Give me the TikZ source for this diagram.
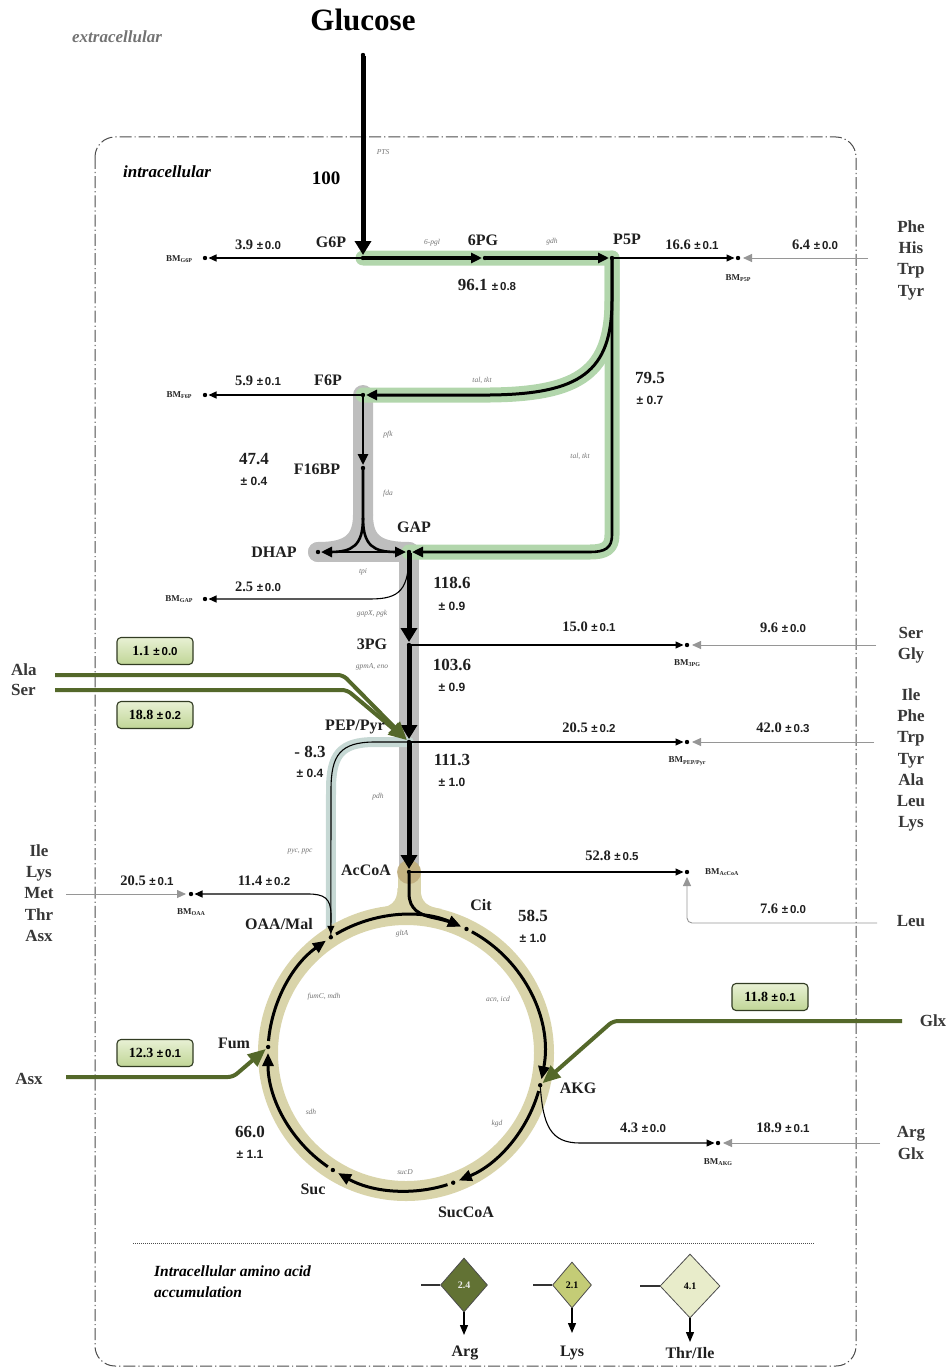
\documentclass[tikz,border=0pt]{standalone}
\usepackage{fontspec}
\setmainfont{Liberation Serif}
\newfontfamily\sansf{Liberation Sans}
\usetikzlibrary{arrows.meta,calc,shapes.geometric}
\definecolor{bandgreen}{RGB}{178,214,172}
\definecolor{bandgray}{RGB}{190,190,190}
\definecolor{bandtca}{RGB}{217,212,170}
\definecolor{bandteal}{RGB}{198,216,212}
\definecolor{acspot}{RGB}{190,172,122}
\definecolor{aagreen}{RGB}{84,104,42}
\definecolor{boxtop}{RGB}{232,240,212}
\definecolor{boxbot}{RGB}{192,213,150}
\definecolor{boxline}{RGB}{50,60,35}
\definecolor{inflow}{RGB}{150,150,150}
\definecolor{cArg}{RGB}{98,114,52}
\definecolor{cLys}{RGB}{196,204,118}
\definecolor{cThr}{RGB}{232,236,202}
\newcommand\pmx[1]{{\sansf\bfseries\fontsize{11.5}{13}\selectfont ±\,#1}}
\newcommand\bmsub[1]{BM\raisebox{-1.4pt}{\fontsize{6}{7}\selectfont #1}}
\tikzset{
  met/.style={font=\fontsize{16}{18}\selectfont\bfseries, text=black!88, inner sep=0pt},
  flx/.style={font=\fontsize{14.5}{16}\selectfont\bfseries, text=black!88, inner sep=0pt},
  bflx/.style={font=\fontsize{17}{19}\selectfont\bfseries, text=black!88, inner sep=0pt},
  pmlab/.style={font=\sansf\bfseries\fontsize{12}{14}\selectfont, text=black!88, inner sep=0pt},
  enz/.style={font=\fontsize{7.5}{8.5}\selectfont\itshape, text=black!55, inner sep=0pt},
  bml/.style={font=\fontsize{9}{10}\selectfont\bfseries, text=black!85, inner sep=0pt},
  aal/.style={font=\fontsize{17}{21.3}\selectfont\bfseries, align=center, text=black!78, inner sep=0pt},
  band/.style={line width=#1, line cap=round, line join=round},
  mainflux/.style={line width=5pt, -{Triangle[length=14pt,width=16pt]}, shorten >=3pt, shorten <=1pt},
  midflux/.style={line width=3pt, line join=round, -{Triangle[length=11pt,width=10pt]}, shorten >=3pt},
  thinflux/.style={line width=1.1pt, -{Triangle[length=8pt,width=7pt]}, shorten >=3.5pt},
  grayflux/.style={line width=0.9pt, draw=inflow, -{Triangle[length=9pt,width=8pt]}, shorten >=5pt},
  aaflux/.style={line width=4pt, draw=aagreen, line join=round, rounded corners=5pt, -{Triangle[length=18pt,width=15pt]}, shorten >=3pt},
  tcaflux/.style={line width=3pt, -{Triangle[length=13pt,width=11pt]}},
  abox/.style={draw=boxline, line width=1.1pt, rounded corners=4pt, top color=boxtop, bottom color=boxbot, minimum width=76pt, minimum height=27pt, font=\fontsize{14}{16}\selectfont\bfseries, inner sep=0pt},
  dmd/.style={diamond, draw=black!70, line width=0.8pt, inner sep=0pt, font=\fontsize{10}{11}\selectfont\bfseries},
}
\begin{document}
\begin{tikzpicture}[x=1pt,y=-1pt]
\useasboundingbox (0,0) rectangle (950,1367);

% cell boundary
\draw[black!70, line width=1pt, dash pattern=on 12pt off 3pt on 1.2pt off 3pt, rounded corners=20pt] (95,137) rectangle (856,1366);

% ---------- coordinates ----------
\coordinate (GLC) at (363,55);
\coordinate (G6P) at (363,258);
\coordinate (n6PG) at (485,258);
\coordinate (P5P) at (612,258);
\coordinate (F6P) at (363,395);
\coordinate (F16BP) at (363,468);
\coordinate (DHAP) at (318,552);
\coordinate (GAP) at (409,552);
\coordinate (n3PG) at (409,645);
\coordinate (PEP) at (409,742);
\coordinate (AcCoA) at (409,872);
\coordinate (C) at (406,1053);
\coordinate (OAA) at ($(C)+(-123:138)$);
\coordinate (Cit) at ($(C)+(-64:138)$);
\coordinate (AKG) at ($(C)+(13.5:138)$);
\coordinate (SucCoA) at ($(C)+(70:138)$);
\coordinate (Suc) at ($(C)+(122:138)$);
\coordinate (Fum) at ($(C)+(182.5:138)$);
\coordinate (BMG6P) at (205,258);
\coordinate (BMF6P) at (205,395);
\coordinate (BMGAP) at (205,599);
\coordinate (BMP5P) at (738,258);
\coordinate (BM3PG) at (687,645);
\coordinate (BMPEP) at (687,742);
\coordinate (BMAcCoA) at (687,872);
\coordinate (BMOAA) at (191,894);
\coordinate (BMAKG) at (718,1143);
\coordinate (inP5P) at (868,258);
\coordinate (in3PG) at (876,645);
\coordinate (inPEP) at (874,742);
\coordinate (inLeu) at (877,923);
\coordinate (inOAA) at (66,894);
\coordinate (inAKG) at (880,1143);
\coordinate (inAla) at (55,675);
\coordinate (inSer) at (55,690);
\coordinate (inAsx) at (66,1077);
\coordinate (inGlx) at (902,1021);

% ---------- highlight bands ----------
\draw[bandgray, band=20pt] (F6P) -- (F16BP) -- (363,515) .. controls (363,545) and (345,552) .. (DHAP);
\draw[bandgray, band=20pt] (363,515) .. controls (363,545) and (380,552) .. (GAP);
\draw[bandgray, band=20pt] (DHAP) -- (GAP) -- (AcCoA);
\draw[bandteal, band=10pt] (PEP) -- (375,742) .. controls (340,742) and (331,755) .. (331,790) -- (OAA);
\draw[bandtca, line width=20pt] (C) circle[radius=138];
\draw[bandtca, band=23pt] (AcCoA) -- (409,912);
\fill[bandtca] (397.5,888) .. controls (397.5,903) and (390,907) .. (376,909) -- (409,918) -- cycle;
\fill[bandtca] (420.5,888) .. controls (420.5,903) and (428,907) .. (442,909) -- (409,918) -- cycle;
\fill[acspot, opacity=0.85] (AcCoA) circle (12pt);
\draw[bandgreen, band=15pt] (G6P) -- (P5P) -- (612,535) .. controls (612,548) and (605,552) .. (590,552) -- (GAP);
\draw[bandgreen, band=15pt] (P5P) -- (612,300) .. controls (612,372) and (580,394) .. (490,395) -- (F6P);

% ---------- main fluxes ----------
\draw[mainflux] (GLC) -- (G6P);
\draw[midflux, line width=3.5pt] (G6P) -- (n6PG);
\draw[midflux, line width=3.5pt] (n6PG) -- (P5P);
\draw[midflux] (P5P) -- (612,300) .. controls (612,372) and (580,394) .. (490,395) -- (F6P);
\draw[midflux, line width=2.6pt] (P5P) -- (612,535) .. controls (612,548) and (605,552) .. (590,552) -- (GAP);
\draw[midflux, line width=2.6pt] (F6P) -- (F16BP);
\draw[line width=2.6pt] (F16BP) -- (363,518) .. controls (363,546) and (352,552) .. (330,552);
\draw[line width=2.6pt] (363,518) .. controls (363,546) and (374,552) .. (396,552);
\draw[line width=2.6pt, {Triangle[length=11pt,width=10pt]}-{Triangle[length=11pt,width=10pt]}, shorten >=3pt, shorten <=3pt] (DHAP) -- (GAP);
\draw[mainflux] (GAP) -- (n3PG);
\draw[mainflux] (n3PG) -- (PEP);
\draw[mainflux] (PEP) -- (AcCoA);

% TCA cycle
\draw[tcaflux] ($(C)+(-120.5:138)$) arc[start angle=-120.5, end angle=-66.5, radius=138];
\draw[tcaflux, shorten <=2pt] (AcCoA) -- (409,893) .. controls (409,910) and (420,915) .. ($(C)+(-78:138)$) arc[start angle=-78, end angle=-66.5, radius=138];
\draw[tcaflux] ($(C)+(-61.5:138)$) arc[start angle=-61.5, end angle=11, radius=138];
\draw[tcaflux] ($(C)+(16:138)$) arc[start angle=16, end angle=67.5, radius=138];
\draw[tcaflux] ($(C)+(72.5:138)$) arc[start angle=72.5, end angle=119.5, radius=138];
\draw[tcaflux] ($(C)+(124.5:138)$) arc[start angle=124.5, end angle=180, radius=138];
\draw[tcaflux] ($(C)+(185:138)$) arc[start angle=185, end angle=234.5, radius=138];

% ---------- biomass drains ----------
\draw[thinflux] (G6P) -- (BMG6P);
\draw[thinflux] (F6P) -- (BMF6P);
\draw[thinflux] (GAP) .. controls (409,590) and (400,599) .. (370,599) -- (BMGAP);
\draw[thinflux] (P5P) -- (BMP5P);
\draw[thinflux] (n3PG) -- (BM3PG);
\draw[thinflux] (PEP) -- (BMPEP);
\draw[thinflux] (AcCoA) -- (BMAcCoA);
\draw[thinflux] (PEP) -- (375,742) .. controls (340,742) and (331,755) .. (331,790) -- (OAA);
\draw[thinflux] (OAA) -- (331,915) .. controls (331,898) and (324,894) .. (308,894) -- (BMOAA);
\draw[thinflux] (AKG) .. controls (543,1125) and (550,1143) .. (580,1143) -- (BMAKG);

% ---------- external supply (grey) ----------
\draw[grayflux] (inP5P) -- (BMP5P);
\draw[grayflux] (in3PG) -- (BM3PG);
\draw[grayflux] (inPEP) -- (BMPEP);
\draw[grayflux, rounded corners=5pt] (inLeu) -- (687,923) -- (BMAcCoA);
\draw[grayflux] (inOAA) -- (BMOAA);
\draw[grayflux] (inAKG) -- (BMAKG);

% ---------- amino acid uptake (green) ----------
\draw[aaflux] (inAla) -- (343,675) -- (PEP);
\draw[aaflux] (inSer) -- (347,690) -- (PEP);
\draw[aaflux] (inAsx) -- (233,1077) -- (Fum);
\draw[aaflux] (inGlx) -- (613,1021) -- (AKG);

% ---------- dots ----------
\foreach \p in {GLC,G6P,n6PG,P5P,F6P,F16BP,DHAP,GAP,n3PG,PEP,AcCoA,OAA,Cit,AKG,SucCoA,Suc,Fum,BMG6P,BMF6P,BMGAP,BMP5P,BM3PG,BMPEP,BMAcCoA,BMOAA,BMAKG}
  \fill (\p) circle (2.2pt);

% ---------- labels ----------
\node[font=\fontsize{17}{19}\selectfont\bfseries\itshape, text=black!55, inner sep=0pt] (tExtra) at (117,37) {extracellular};
\node[font=\fontsize{31}{33}\selectfont\bfseries, inner sep=0pt] (tGlc) at (363,20) {Glucose};
\node[font=\fontsize{17}{19}\selectfont\bfseries\itshape, inner sep=0pt] (tIntra) at (167,172) {intracellular};
\node[enz] (ePTS) at (383,152) {PTS};
\node[font=\fontsize{19}{21}\selectfont\bfseries, inner sep=0pt] (t100) at (326,178) {100};

\node[met] (lG6P) at (331,242) {G6P};
\node[met] (l6PG) at (483,240) {6PG};
\node[met] (lP5P) at (627,239) {P5P};
\node[enz] (e6pgl) at (432,243) {6-pgl};
\node[enz] (egdh) at (552,242) {gdh};
\node[bflx] (f96) at (487,285) {96.1 \pmx{0.8}};
\node[flx] (f39) at (258,245) {3.9 \pmx{0.0}};
\node[flx] (f166) at (692,245) {16.6 \pmx{0.1}};
\node[flx] (f64) at (815,245) {6.4 \pmx{0.0}};
\node[bml] (bG6P) at (179,259) {\bmsub{G6P}};
\node[bml] (bP5P) at (738,278) {\bmsub{P5P}};
\node[aal] (aP5P) at (911,260) {Phe\\His\\Trp\\Tyr};

\node[enz] (etal1) at (482,380) {tal, tkt};
\node[enz] (etal2) at (580,456) {tal, tkt};
\node[bflx] (f795) at (650,378) {79.5};
\node[pmlab] (f795b) at (650,400) {± 0.7};

\node[met] (lF6P) at (328,380) {F6P};
\node[flx] (f59) at (258,381) {5.9 \pmx{0.1}};
\node[bml] (bF6P) at (179,395) {\bmsub{F6P}};
\node[enz] (epfk) at (388,435) {pfk};
\node[bflx] (f474) at (254,459) {47.4};
\node[pmlab] (f474b) at (254,481) {± 0.4};
\node[met] (lF16BP) at (317,469) {F16BP};
\node[enz] (efda) at (388,494) {fda};
\node[met] (lGAP) at (414,527) {GAP};
\node[met] (lDHAP) at (274,552) {DHAP};
\node[enz] (etpi) at (363,572) {tpi};
\node[flx] (f25) at (258,587) {2.5 \pmx{0.0}};
\node[bml] (bGAP) at (179,599) {\bmsub{GAP}};

\node[bflx] (f1186) at (452,583) {118.6};
\node[pmlab] (f1186b) at (452,606) {± 0.9};
\node[enz] (egap) at (372,614) {gapX, pgk};
\node[met] (l3PG) at (372,644) {3PG};
\node[enz] (egpm) at (372,667) {gpmA, eno};
\node[bflx] (f1036) at (452,665) {103.6};
\node[pmlab] (f1036b) at (452,687) {± 0.9};
\node[flx] (f150) at (589,627) {15.0 \pmx{0.1}};
\node[flx] (f96b) at (783,628) {9.6 \pmx{0.0}};
\node[bml] (b3PG) at (687,663) {\bmsub{3PG}};
\node[aal] (a3PG) at (911,645) {Ser\\Gly};

\node[abox] (box1) at (155,651) {1.1 \pmx{0.0}};
\node[abox] (box2) at (155,715) {18.8 \pmx{0.2}};
\node[aal, anchor=west] (aAla) at (11,670) {Ala};
\node[aal, anchor=west] (aSer) at (11,690) {Ser};

\node[met] (lPEP) at (355,727) {PEP/Pyr};
\node[bflx] (f83) at (310,752) {- 8.3};
\node[pmlab] (f83b) at (310,773) {± 0.4};
\node[flx] (f205) at (589,728) {20.5 \pmx{0.2}};
\node[flx] (f420) at (783,728) {42.0 \pmx{0.3}};
\node[bml] (bPEP) at (687,761) {\bmsub{PEP/Pyr}};
\node[aal] (aPEP) at (911,760) {Ile\\Phe\\Trp\\Tyr\\Ala\\Leu\\Lys};
\node[bflx] (f1113) at (452,760) {111.3};
\node[pmlab] (f1113b) at (452,782) {± 1.0};
\node[enz] (epdh) at (378,797) {pdh};
\node[enz] (epyc) at (300,852) {pyc, ppc};

\node[met] (lAcCoA) at (366,870) {AcCoA};
\node[flx] (f528) at (612,856) {52.8 \pmx{0.5}};
\node[bml, anchor=west] (bAcCoA) at (705,872) {\bmsub{AcCoA}};
\node[flx] (f76) at (783,909) {7.6 \pmx{0.0}};
\node[aal] (aLeu) at (911,921) {Leu};

\node[aal] (aOAA) at (39,893) {Ile\\Lys\\Met\\Thr\\Asx};
\node[flx] (f205b) at (147,881) {20.5 \pmx{0.1}};
\node[flx] (f114) at (264,881) {11.4 \pmx{0.2}};
\node[bml] (bOAA) at (191,912) {\bmsub{OAA}};

\node[met] (lCit) at (481,905) {Cit};
\node[bflx] (f585) at (533,916) {58.5};
\node[pmlab] (f585b) at (533,938) {± 1.0};
\node[met] (lOAA) at (279,924) {OAA/Mal};
\node[enz] (egltA) at (402,934) {gltA};
\node[enz] (efum) at (324,997) {fumC, mdh};
\node[enz] (eacn) at (498,999) {acn, icd};
\node[met] (lFum) at (234,1043) {Fum};
\node[met] (lAKG) at (578,1088) {AKG};
\node[enz] (ekgd) at (497,1124) {kgd};
\node[enz] (esdh) at (311,1112) {sdh};
\node[bflx] (f660) at (250,1132) {66.0};
\node[pmlab] (f660b) at (250,1154) {± 1.1};
\node[enz] (esucD) at (405,1172) {sucD};
\node[met] (lSuc) at (313,1189) {Suc};
\node[met] (lSucCoA) at (466,1212) {SucCoA};

\node[abox] (box3) at (155,1053) {12.3 \pmx{0.1}};
\node[abox] (box4) at (770,997) {11.8 \pmx{0.1}};
\node[aal] (aAsx) at (29,1079) {Asx};
\node[aal] (aGlx) at (933,1021) {Glx};

\node[flx] (f43) at (643,1128) {4.3 \pmx{0.0}};
\node[flx] (f189) at (783,1128) {18.9 \pmx{0.1}};
\node[bml] (bAKG) at (718,1162) {\bmsub{AKG}};
\node[aal] (aAKG) at (911,1143) {Arg\\Glx};

% ---------- accumulation legend ----------
\coordinate (sepL) at (133,1243);
\coordinate (sepR) at (815,1243);
\draw[black!70, line width=1pt, dash pattern=on 1pt off 1pt] (sepL) -- (sepR);
\node[font=\fontsize{15.5}{21}\selectfont\bfseries\itshape, align=left, anchor=west, inner sep=0pt] (tAcc) at (154,1282) {Intracellular amino acid\\accumulation};

\node[dmd, fill=cArg, text=white!92!black, minimum width=47pt, minimum height=54pt] (dArg) at (464,1285) {2.4};
\node[dmd, fill=cLys, minimum width=39pt, minimum height=46pt] (dLys) at (572,1285) {2.1};
\node[dmd, fill=cThr, minimum width=60pt, minimum height=64pt] (dThr) at (690,1286) {4.1};
\coordinate (ArgIn) at (421,1285);
\coordinate (LysIn) at (533,1285);
\coordinate (ThrIn) at (640,1286);
\coordinate (ArgOut) at (464,1335);
\coordinate (LysOut) at (572,1333);
\coordinate (ThrOut) at (690,1342);
\draw[line width=2pt, black!80] (ArgIn) -- (dArg.west);
\draw[line width=2pt, black!80] (LysIn) -- (dLys.west);
\draw[line width=2pt, black!80] (ThrIn) -- (dThr.west);
\draw[line width=1.3pt, -{Triangle[length=10pt,width=8pt]}] (dArg.south) -- (ArgOut);
\draw[line width=1.3pt, -{Triangle[length=10pt,width=8pt]}] (dLys.south) -- (LysOut);
\draw[line width=1.3pt, -{Triangle[length=10pt,width=8pt]}] (dThr.south) -- (ThrOut);
\node[met] (lArg) at (465,1353) {Arg};
\node[met] (lLys) at (572,1353) {Lys};
\node[met] (lThr) at (690,1353) {Thr/Ile};
\end{tikzpicture}
\end{document}
